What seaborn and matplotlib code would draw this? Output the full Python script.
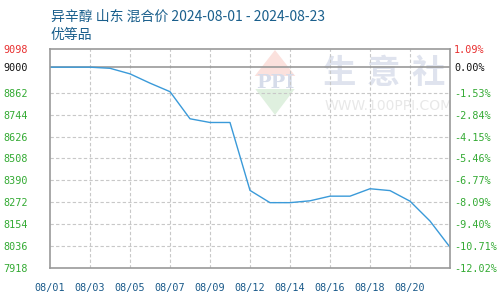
import matplotlib
matplotlib.use("Agg")
import matplotlib.pyplot as plt
from matplotlib.patches import Polygon
import seaborn as sns
import pandas as pd

dates = ["08/01", "08/02", "08/03", "08/04", "08/05", "08/06", "08/07", "08/08",
         "08/09", "08/10", "08/12", "08/13", "08/14", "08/15", "08/16", "08/17",
         "08/18", "08/19", "08/20", "08/22", "08/23"]
prices = [9000, 9000, 9000, 8994, 8964, 8914, 8868, 8722, 8702, 8702, 8336,
          8270, 8270, 8280, 8305, 8305, 8345, 8335, 8278, 8171, 8030]

left_ticks = [9098, 9000, 8862, 8744, 8626, 8508, 8390, 8272, 8154, 8036, 7918]
right_labels = ["1.09%", "0.00%", "-1.53%", "-2.84%", "-4.15%", "-5.46%",
                "-6.77%", "-8.09%", "-9.40%", "-10.71%", "-12.02%"]
date_labels = ["08/01", "08/03", "08/05", "08/07", "08/09", "08/12",
               "08/14", "08/16", "08/18", "08/20"]

title_line1 = "异辛醇 山东 混合价 2024-08-01 - 2024-08-23"
title_line2 = "优等品"

sns.set_theme(style="white")
plt.rcParams["font.family"] = ["Noto Sans CJK SC", "DejaVu Sans"]

df = pd.DataFrame({"idx": range(len(dates)), "date": dates, "price": prices})

fig = plt.figure(figsize=(5, 3), dpi=100)

# watermark (behind axes)
def P(x, y):
    return (x / 500.0, 1 - y / 300.0)

fig.patches.append(Polygon([P(275, 50), P(295.3, 76), P(254.7, 76)], closed=True,
                           transform=fig.transFigure, facecolor="#fbe1dd",
                           edgecolor="none", zorder=0))
fig.patches.append(Polygon([P(255.3, 89), P(294.7, 89), P(275, 115)], closed=True,
                           transform=fig.transFigure, facecolor="#dff0df",
                           edgecolor="none", zorder=0))
fig.text(275 / 500, 1 - 83 / 300, "PPI", fontsize=14, color="#d6dcea", ha="center",
         va="center", fontweight="bold", family=["DejaVu Serif"], zorder=0)
for ch, cx in zip("生意社", [340, 383, 428]):
    fig.text(cx / 500, 1 - 73 / 300, ch, fontsize=24, color="#dfe3ee", ha="center",
             va="center", family=["Noto Sans CJK SC"], fontweight="bold", zorder=0)
fig.text(325 / 500, 1 - 106 / 300, "WWW.100PPI.COM", fontsize=10, color="#e8e8e8",
         ha="left", va="center", family=["DejaVu Sans"], zorder=0)

ax = fig.add_axes([0.1, 0.1067, 0.8, 0.73])
ax.set_facecolor("none")
ax.set_zorder(1)

sns.lineplot(data=df, x="idx", y="price", ax=ax, color="#3a9ad9", linewidth=1.0)

ax.set_xlim(0, len(dates) - 1)
ax.set_ylim(left_ticks[-1], left_ticks[0])

# grid
for v in left_ticks[2:-1]:
    ax.axhline(v, color="#c8c8c8", linestyle=(0, (3, 2)), linewidth=0.8, zorder=0)
ax.axhline(left_ticks[1], color="#999999", linewidth=1.2, zorder=1)
xtick_pos = [dates.index(d) for d in date_labels]
for p in xtick_pos[1:]:
    ax.axvline(p, color="#c8c8c8", linestyle=(0, (3, 2)), linewidth=0.8, zorder=0)

for s in ax.spines.values():
    s.set_color("#999999")
    s.set_linewidth(1.2)

mono = ["DejaVu Sans Mono"]
fs = 7.3
ax.set_yticks(left_ticks)
ax.set_yticklabels([str(v) for v in left_ticks], family=mono, fontsize=fs)
ycols = ["#e83030", "#111111"] + ["#33aa33"] * (len(left_ticks) - 2)
for lab, c in zip(ax.get_yticklabels(), ycols):
    lab.set_color(c)
ax.tick_params(axis="y", length=0, pad=16)

ax.set_xticks(xtick_pos)
ax.set_xticklabels(date_labels, family=mono, fontsize=fs, color="#1a5a8a")
ax.tick_params(axis="x", length=0, pad=11)
ax.set_xlabel("")
ax.set_ylabel("")

ax2 = ax.twinx()
ax2.set_ylim(ax.get_ylim())
ax2.set_yticks(left_ticks)
ax2.set_yticklabels(right_labels, family=mono, fontsize=fs)
for lab, c in zip(ax2.get_yticklabels(), ycols):
    lab.set_color(c)
ax2.tick_params(axis="y", length=0, pad=3)
for s in ax2.spines.values():
    s.set_visible(False)

fig.text(0.102, 0.945, title_line1, fontsize=10, color="#1a5f8c", ha="left", va="center")
fig.text(0.102, 0.885, title_line2, fontsize=10, color="#1a5f8c", ha="left", va="center")

fig.savefig("out.png", dpi=100)
